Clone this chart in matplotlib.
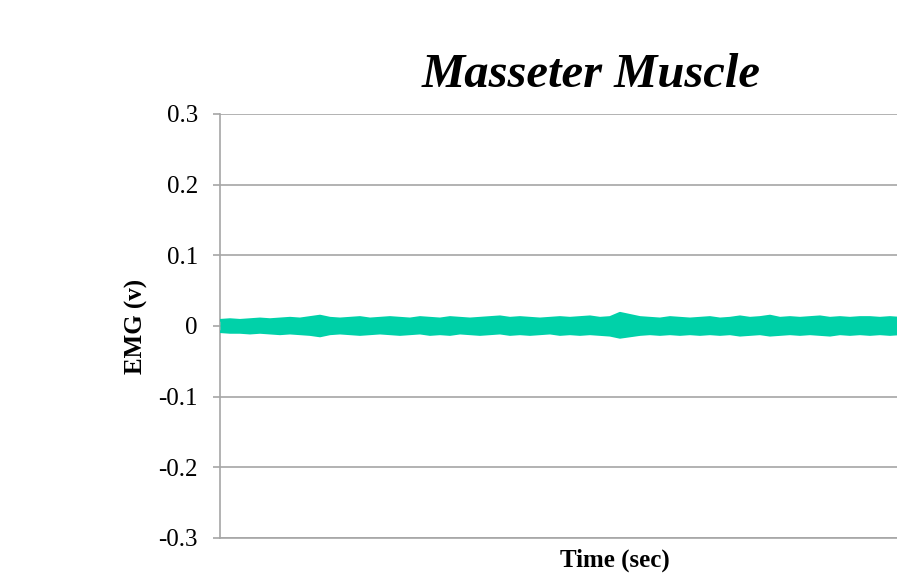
import numpy as np
import matplotlib.pyplot as plt

# EMG envelope, in millivolts (one value every ~10 px)
emg_upper_mv = [8, 9, 8, 9, 10, 9, 10, 11, 10, 12,
                14, 11, 10, 11, 12, 10, 11, 12, 11, 10,
                12, 11, 10, 12, 11, 10, 11, 12, 13, 11,
                12, 11, 10, 11, 12, 11, 12, 13, 11, 12,
                18, 15, 12, 11, 10, 12, 11, 10, 11, 12,
                10, 11, 13, 11, 12, 14, 11, 12, 11, 12,
                13, 11, 12, 11, 12, 12, 11, 12, 11, 12,
                11, 12, 11, 12, 12, 11, 12, 11, 12, 11]
emg_lower_mv = [-8, -9, -9, -10, -9, -10, -11, -10, -11, -12,
                -14, -11, -10, -11, -12, -11, -10, -11, -12, -11,
                -10, -12, -11, -12, -10, -11, -12, -11, -10, -12,
                -11, -12, -11, -10, -12, -11, -12, -11, -12, -13,
                -16, -14, -12, -11, -12, -11, -12, -11, -12, -11,
                -12, -11, -13, -12, -11, -13, -12, -11, -12, -11,
                -12, -13, -11, -12, -11, -12, -11, -12, -11, -12,
                -11, -12, -11, -12, -11, -12, -11, -12, -11, -12]
y_ticks = [-0.3, -0.2, -0.1, 0, 0.1, 0.2, 0.3]
y_tick_labels = ["-0.3", "-0.2", "-0.1", "0", "0.1", "0.2", "0.3"]

upper = np.array(emg_upper_mv) / 1000.0
lower = np.array(emg_lower_mv) / 1000.0
t = np.arange(len(upper))

plt.rcParams['font.family'] = ['Liberation Serif', 'DejaVu Serif']
grid_col = '#A6A6A6'
sig_col = '#00D1A9'

fig = plt.figure(figsize=(8.97, 5.75), dpi=100)
ax = fig.add_axes([220 / 897, 37 / 575, 790 / 897, 424 / 575])

ax.fill_between(t, lower, upper, color=sig_col, lw=0, zorder=3)
ax.plot(t, upper, color=sig_col, lw=2, zorder=3)
ax.plot(t, lower, color=sig_col, lw=2, zorder=3)

ax.set_xlim(0, len(t) - 1)
ax.set_ylim(-0.3, 0.3)
ax.set_yticks(y_ticks)
ax.set_yticklabels(y_tick_labels, fontsize=18)
ax.set_xticks([])
ax.yaxis.grid(True, color=grid_col, lw=1.2)
ax.set_axisbelow(True)
ax.tick_params(axis='y', length=5, width=1.2, color=grid_col, pad=11, direction='out')

for s in ['top', 'right']:
    ax.spines[s].set_visible(False)
for s in ['left', 'bottom']:
    ax.spines[s].set_color(grid_col)
    ax.spines[s].set_linewidth(1.2)

ax.set_ylabel("EMG (v)", fontsize=18, fontweight='bold', va='center')
ax.yaxis.set_label_coords(-84 / 790, 0.5)
ax.set_xlabel("Time (sec)", fontsize=18, fontweight='bold', va='center')
ax.xaxis.set_label_coords(0.5, -22 / 424)

fig.text(591 / 897, 1 - 87 / 575, "Masseter Muscle", fontsize=35,
         fontweight='bold', fontstyle='italic', ha='center', va='baseline')

fig.savefig("out.png", dpi=100)
